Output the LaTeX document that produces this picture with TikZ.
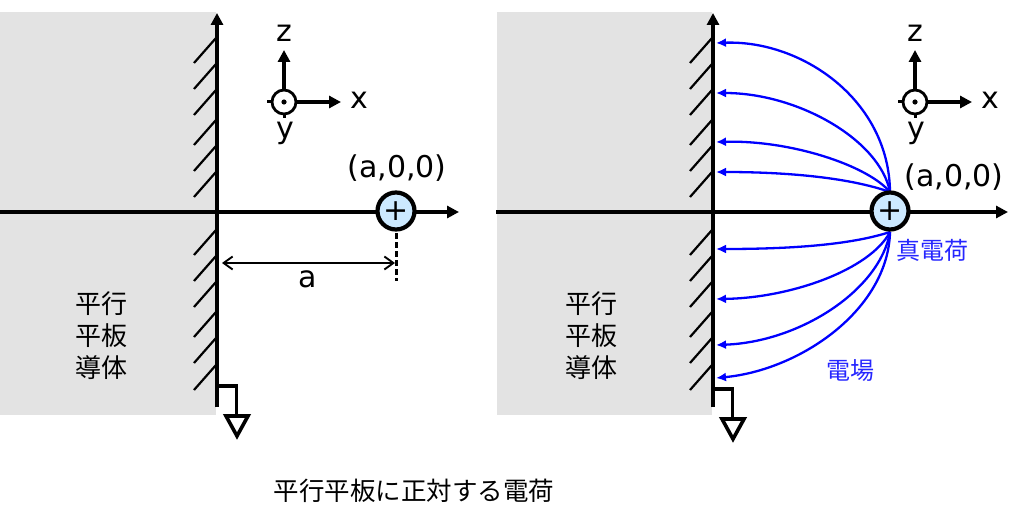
\documentclass[tikz,border=0pt]{standalone}
\usepackage{fontspec}
\setmainfont{DejaVu Sans}
\newfontfamily\cjk{Noto Sans CJK JP}
\usetikzlibrary{arrows.meta}
\definecolor{wallgray}{HTML}{E3E3E3}
\definecolor{chargefill}{HTML}{CCE9FF}
\tikzset{
  x=1pt,y=-1pt,
  axisline/.style={line width=4pt,-{Triangle[length=12pt,width=12pt]},shorten >=-1pt},
  smallaxis/.style={line width=3.4pt,-{Triangle[length=12pt,width=12pt]}},
  hatchline/.style={line width=2.2pt},
  chargenode/.style={circle,draw=black,line width=4.2pt,fill=chargefill,minimum size=37pt,inner sep=0pt},
  ynode/.style={circle,draw=black,line width=2.8pt,fill=white,minimum size=24pt,inner sep=0pt},
  field/.style={draw=blue,line width=2.3pt,-{Latex[length=10pt,width=9pt]}},
  lab/.style={font=\fontsize{30}{30}\selectfont,inner sep=0pt},
  jp/.style={font=\cjk\fontsize{26}{32}\selectfont,inner sep=0pt,align=center},
  bluelab/.style={font=\cjk\fontsize{24}{24}\selectfont,text=blue!85!white,inner sep=0pt},
  groundline/.style={line width=3.6pt},
  groundtri/.style={line width=3.6pt,fill=white,line join=miter},
}
\newcommand{\wallpanel}[3]{%
  \fill[wallgray] (#1-217+#3,12) rectangle (#1-1,415);
  \foreach \yy in {63,89,115,145,171,197,255,281,307,337,363,390}
    \draw[hatchline] (#1-23,\yy) -- (#1-1,\yy-25);
  \draw[axisline] (#1,407) -- (#1,14);
  \draw[groundline] (#1,#2) -- (#1+19.5,#2) -- (#1+19.5,#2+30);
  \draw[groundtri] (#1+9,#2+30) -- (#1+31,#2+30) -- (#1+20,#2+50) -- cycle;
}
\newcommand{\axes}[1]{%
  \node[ynode] (yc#1) at (#1,102) {};
  \fill (#1,102) circle (2.6pt);
  \draw[line width=3pt] (#1-17,102) -- (#1-12,102);
  \draw[line width=3pt] (#1,114) -- (#1,118);
  \coordinate (zt#1) at (#1,50);
  \coordinate (xt#1) at (#1+57,102);
  \draw[smallaxis] (yc#1) -- (zt#1);
  \draw[smallaxis] (yc#1) -- (xt#1);
  \node[lab] at (#1,33) {z};
  \node[lab] at (#1+75,100) {x};
  \node[lab] at (#1+1,133) {y};
}
\begin{document}
\begin{tikzpicture}
\useasboundingbox (0,0) rectangle (1024,524);
% left panel
\wallpanel{217}{386}{0}
\coordinate (la) at (0,212);
\coordinate (lb) at (458,212);
\draw[axisline] (la) -- (lb);
\node[chargenode] (qa) at (396,211) {\fontsize{30}{30}\selectfont +};
\axes{284}
\node[lab] (pa) at (397,168) {(a,0,0)};
\coordinate (dt) at (396.5,233);
\coordinate (db) at (396.5,281);
\draw[line width=2.2pt,dash pattern=on 6pt off 3pt] (dt) -- (db);
\coordinate (da) at (222,263);
\coordinate (dc) at (395,263);
\draw[line width=1.9pt,{Straight Barb[length=9pt,width=13pt]}-{Straight Barb[length=9pt,width=13pt]}] (da) -- (dc);
\node[lab] (alab) at (308,279) {a};
\node[jp] (w1) at (101,336) {平行\\平板\\導体};
% right panel
\wallpanel{713}{389}{1}
\coordinate (ra) at (496,212);
\coordinate (rb) at (1007,212);
\draw[axisline] (ra) -- (rb);
\axes{915}
\coordinate (su) at (890,192);
\coordinate (sd) at (890,232);
\coordinate (e1) at (716,43);
\coordinate (e2) at (716,93);
\coordinate (e3) at (716,142);
\coordinate (e4) at (716,172);
\coordinate (e5) at (716,249);
\coordinate (e6) at (716,299);
\coordinate (e7) at (716,345);
\coordinate (e8) at (716,378);
\draw[field] (su) .. controls (889,100) and (802,40) .. (e1);
\draw[field] (su) .. controls (880,140) and (798,93) .. (e2);
\draw[field] (su) .. controls (867,165) and (790,140) .. (e3);
\draw[field] (su) .. controls (850,178) and (790,172) .. (e4);
\draw[field] (sd) .. controls (850,245) and (790,249) .. (e5);
\draw[field] (sd) .. controls (870,270) and (790,298) .. (e6);
\draw[field] (sd) .. controls (880,290) and (800,342) .. (e7);
\draw[field] (sd) .. controls (888,310) and (800,370) .. (e8);
\node[chargenode] (qb) at (890,211) {\fontsize{30}{30}\selectfont +};
\node[lab] (pb) at (954,177) {(a,0,0)};
\node[jp] (w2) at (591,336) {平行\\平板\\導体};
\node[bluelab] (tc) at (932,250) {真電荷};
\node[bluelab] (ef) at (850,371) {電場};
\node[font=\cjk\fontsize{25.5}{26}\selectfont,inner sep=0pt] (cap) at (414,491) {平行平板に正対する電荷};
\end{tikzpicture}
\end{document}
